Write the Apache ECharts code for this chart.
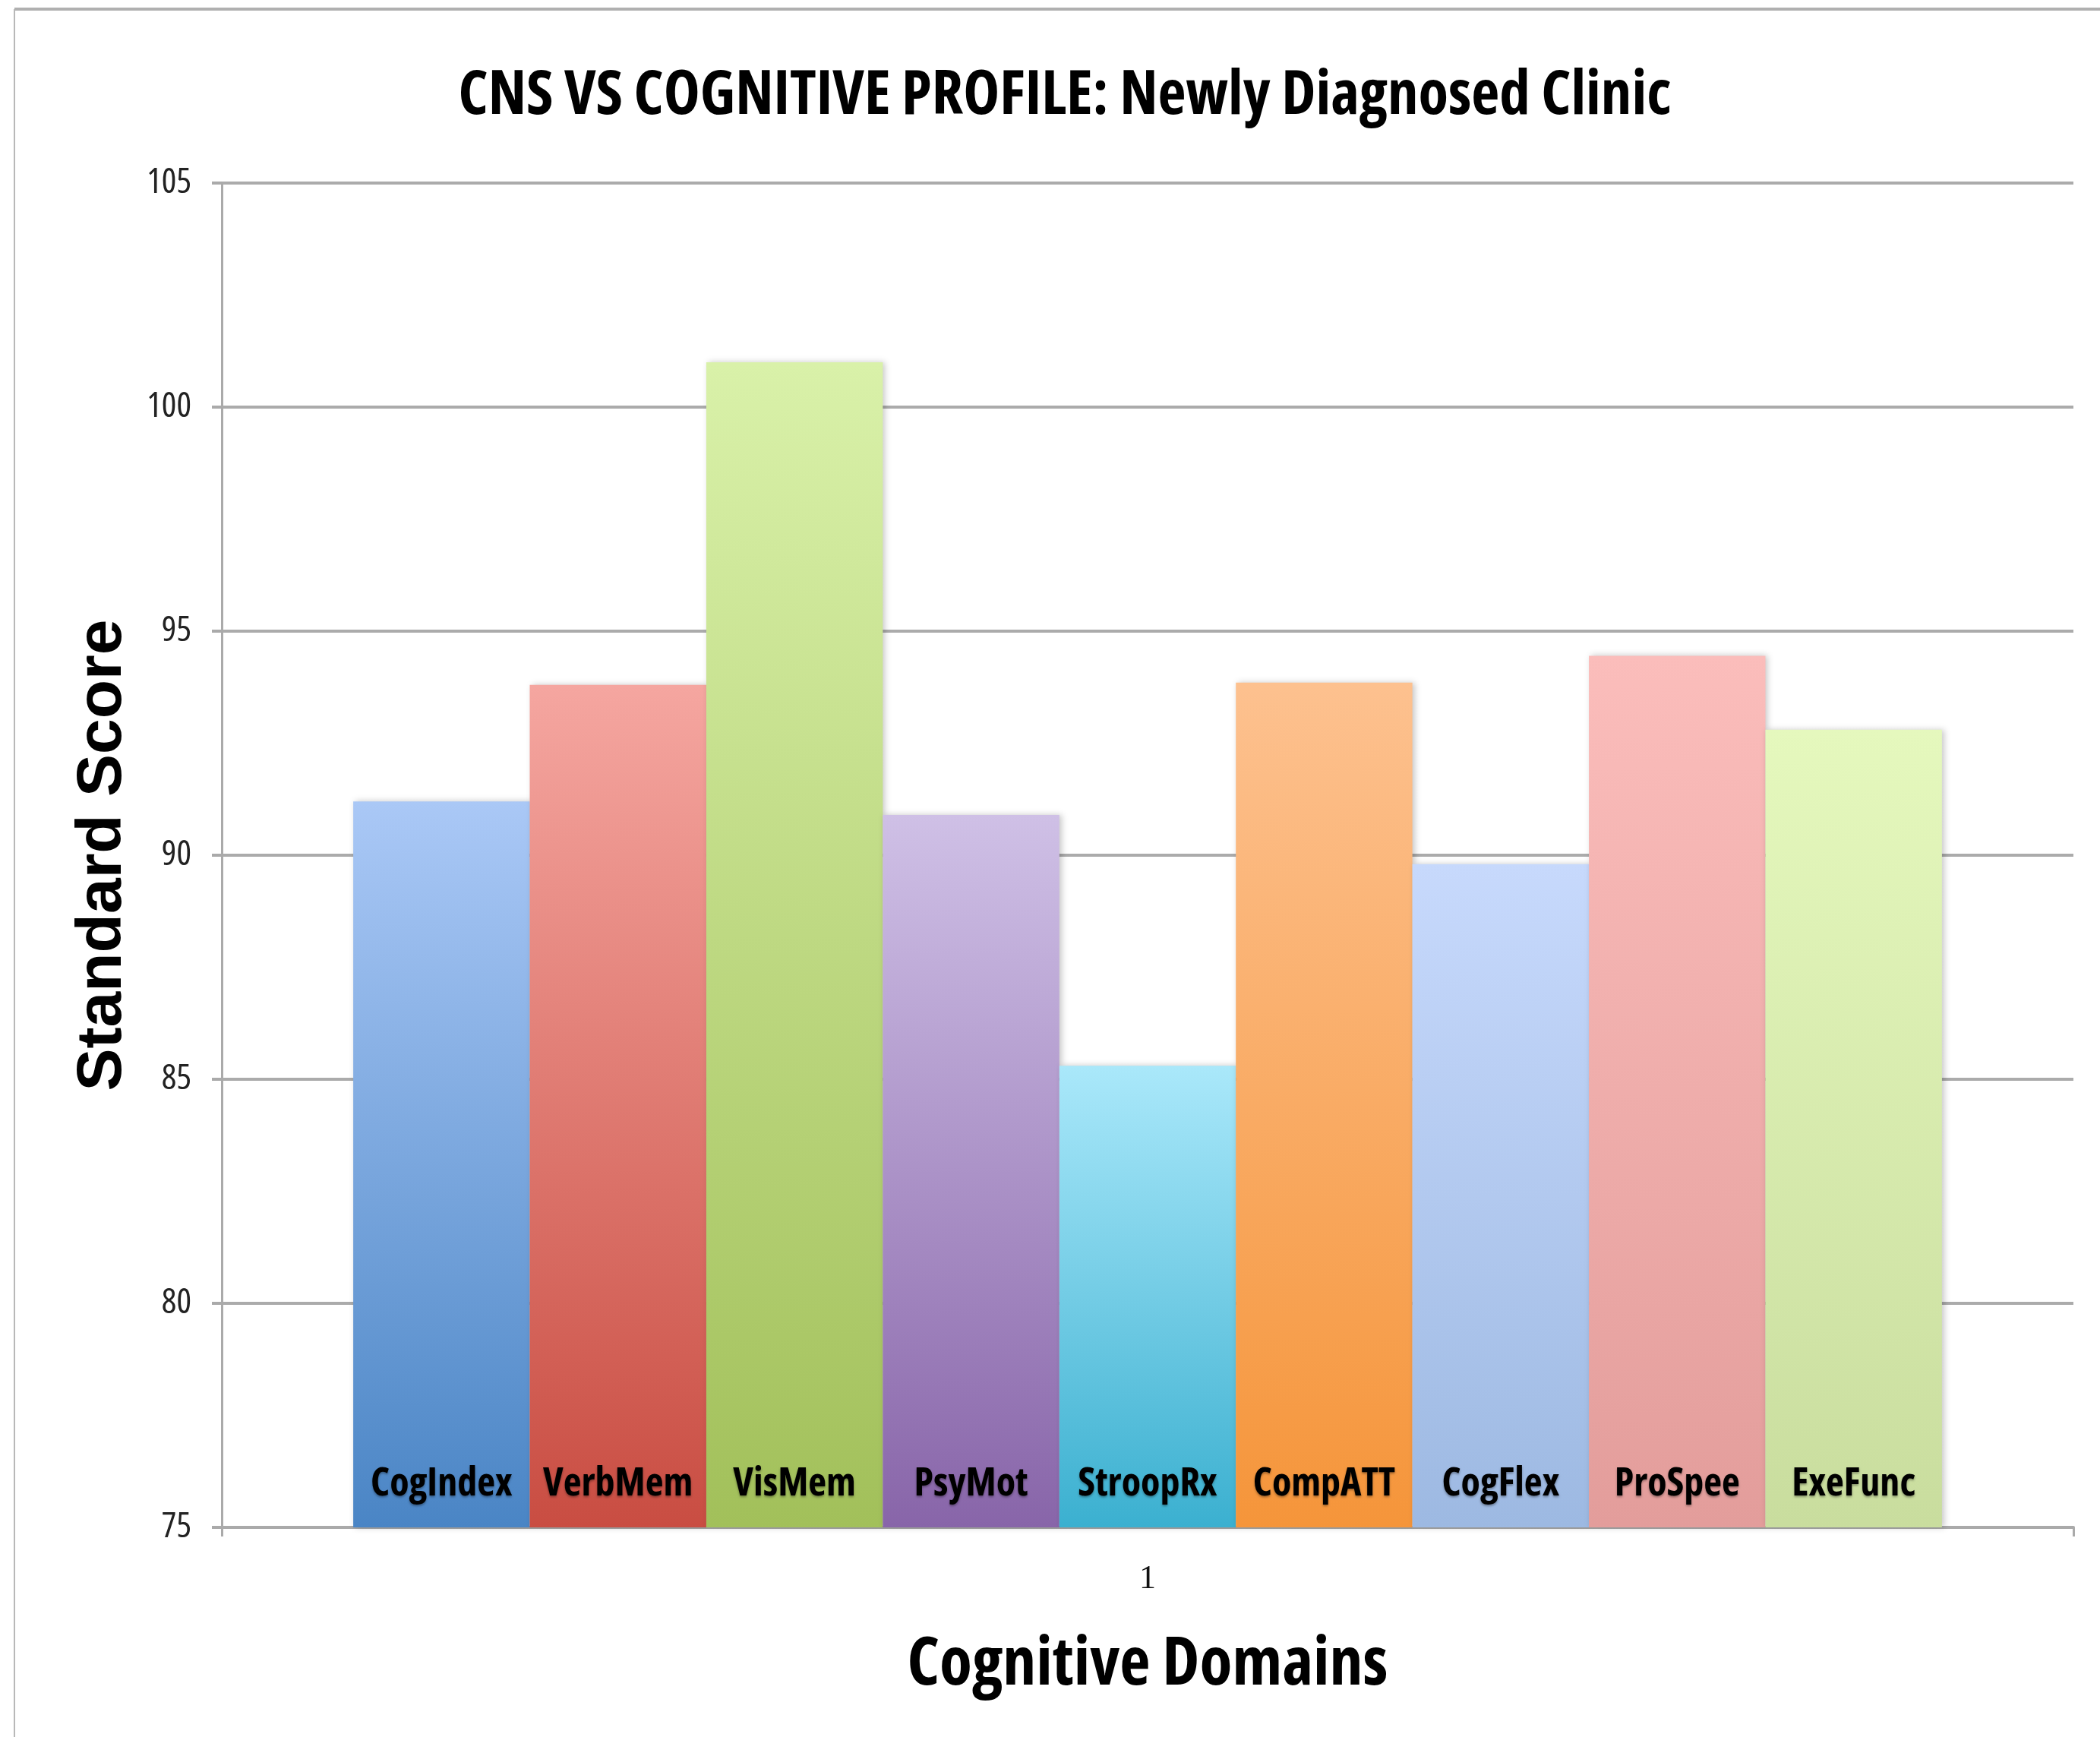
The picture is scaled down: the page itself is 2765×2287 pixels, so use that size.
<!DOCTYPE html>
<html>
<head>
<meta charset="utf-8">
<style>html,body{margin:0;padding:0;background:#fff;}#chart{width:2765px;height:2287px;}</style>
<script src="https://cdn.jsdelivr.net/npm/echarts@6/dist/echarts.min.js"></script>
</head>
<body>
<div id="chart"></div>
<script>
const categories = ['1'];
const domains = ['CogIndex','VerbMem','VisMem','PsyMot','StroopRx','CompATT','CogFlex','ProSpee','ExeFunc'];
const scores = [91.2, 93.8, 101.0, 90.9, 85.3, 93.85, 89.8, 94.45, 92.8];
const topColors = ['#aac8f6','#f5a6a0','#d9f1a9','#cfc0e6','#aae8fa','#fdc18f','#c7d9fc','#fbbdbb','#e5f8bd'];
const bottomColors = ['#4a85c5','#c94d42','#a2c05a','#8865a9','#3bb0d0','#f5953a','#9db9e2','#e39d9b','#c9dd9e'];
const yTicks = { min: 75, max: 105, interval: 5 };
const titleText = 'CNS VS COGNITIVE PROFILE: Newly Diagnosed Clinic';
const xName = 'Cognitive Domains';
const yName = 'Standard Score';

// --- pick a narrow (Calibri-like) font that is available, and fit sizes to the reference widths
const ctx = document.createElement('canvas').getContext('2d');
function measure(font, txt) { ctx.font = font; return ctx.measureText(txt).width; }
const baseFam = "'Liberation Sans', Arial, sans-serif";
const candidates = [
  { stretch: '', fam: "'Liberation Sans Narrow'" },
  { stretch: 'condensed', fam: "'Noto Sans'" },
  { stretch: 'condensed', fam: "'Open Sans'" },
  { stretch: 'condensed', fam: "Roboto" },
  { stretch: '', fam: "'DejaVu Sans Condensed'" }
];
let pick = { stretch: '', fam: baseFam };
const refW = measure("bold 100px " + baseFam, 'CogIndex');
for (const c of candidates) {
  ctx.font = "bold 100px " + baseFam;
  const f = ('bold ' + c.stretch + ' 100px ' + c.fam + ', ' + baseFam).replace(/\s+/g, ' ');
  const cw = measure(f, 'CogIndex');
  if (cw < refW * 0.88) { pick = c; break; }
}
const narrowFam = pick.fam === baseFam ? baseFam : pick.fam + ', ' + baseFam;
const boldW = ('bold ' + pick.stretch).trim();
const normW = (pick.stretch ? 'normal ' + pick.stretch : 'normal');
function fit(txt, weight, target) {
  const w = measure(weight + ' 100px ' + narrowFam, txt);
  return Math.round(100 * target / w);
}
const titleSize = fit(titleText, boldW, 1595);
const xNameSize = fit(xName, boldW, 635);
const barLabelSize = fit('CogIndex', boldW, 187);
const yLabelSize = fit('105', normW, 59);

const series = domains.map((name, i) => ({
  name: name,
  type: 'bar',
  barGap: '0%',
  barCategoryGap: '14.2%',
  data: [scores[i]],
  itemStyle: {
    color: new echarts.graphic.LinearGradient(0, 0, 0, 1, [
      { offset: 0, color: topColors[i] },
      { offset: 1, color: bottomColors[i] }
    ]),
    shadowBlur: 8,
    shadowOffsetX: 3,
    shadowColor: 'rgba(0,0,0,0.22)'
  },
  label: {
    show: true,
    position: 'insideBottom',
    distance: 31,
    formatter: name,
    color: '#000',
    fontFamily: narrowFam,
    fontWeight: boldW,
    fontSize: barLabelSize,
    textShadowColor: 'rgba(0,0,0,0.35)',
    textShadowBlur: 3,
    textShadowOffsetY: 2
  }
}));

const chart = echarts.init(document.getElementById('chart'));
chart.setOption({
  animation: false,
  backgroundColor: '#fff',
  title: {
    text: titleText,
    left: 1397,
    textAlign: 'center',
    top: 130 - titleSize * 0.6,
    textStyle: { fontFamily: narrowFam, fontWeight: boldW, fontSize: titleSize, color: '#000' }
  },
  graphic: [
    { type: 'line', shape: { x1: 19, y1: 12, x2: 2765, y2: 12 }, style: { stroke: '#b0b0b0', lineWidth: 4 } },
    { type: 'line', shape: { x1: 19, y1: 12, x2: 19, y2: 2287 }, style: { stroke: '#b8b8b8', lineWidth: 2 } }
  ],
  grid: { left: 292, right: 35, top: 241, bottom: 276 },
  xAxis: {
    type: 'category',
    data: categories,
    name: xName,
    nameLocation: 'middle',
    nameGap: 186 - xNameSize * 0.55,
    nameTextStyle: { fontFamily: narrowFam, fontWeight: boldW, fontSize: xNameSize, color: '#000' },
    axisLine: { lineStyle: { color: '#aaaaaa', width: 4 } },
    axisTick: { show: true, length: 12, lineStyle: { color: '#aaaaaa', width: 3 } },
    axisLabel: { margin: 46, fontFamily: "'Liberation Serif','Times New Roman',serif", fontSize: 44, color: '#111' }
  },
  yAxis: {
    type: 'value',
    min: yTicks.min,
    max: yTicks.max,
    interval: yTicks.interval,
    name: yName,
    nameLocation: 'middle',
    nameGap: 114,
    nameRotate: 90,
    nameTextStyle: { fontFamily: "'Liberation Sans',Arial,sans-serif", fontWeight: 'bold', fontSize: 84, color: '#000' },
    axisLine: { show: true, lineStyle: { color: '#aaaaaa', width: 3 } },
    axisTick: { show: true, length: 13, lineStyle: { color: '#aaaaaa', width: 4 } },
    axisLabel: { margin: 40, fontFamily: narrowFam, fontWeight: normW, fontSize: yLabelSize, color: '#222' },
    splitLine: { show: true, lineStyle: { color: '#ababab', width: 4 } }
  },
  series: series
});
</script>
</body>
</html>
